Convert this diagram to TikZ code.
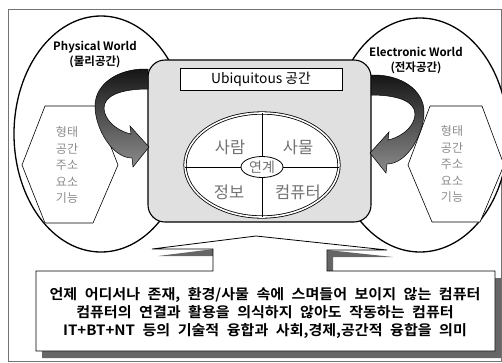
\documentclass[tikz,border=0pt]{standalone}
\usepackage{fontspec}
\setmainfont{Noto Sans CJK KR}[BoldFont={Noto Sans CJK KR Bold}]
\newfontfamily\callfont{Noto Sans CJK KR Bold}[WordSpace=2.2,FakeStretch=1.06]
\usetikzlibrary{shapes.geometric}
\begin{document}
\begin{tikzpicture}[x=1pt,y=-1pt,
  world/.style={draw=black,line width=1.3pt,fill=white},
  hexa/.style={draw=black,line width=0.6pt,fill=white},
  hextext/.style={align=center,text=black!45,font=\fontsize{12}{16.5}\selectfont,inner sep=0pt},
  worldlabel/.style={align=center,font=\fontsize{11.5}{15}\selectfont\bfseries,inner sep=0pt},
  curlarrow/.style={draw=black,line width=0.5pt,top color=black!92,bottom color=black!45},
  quad/.style={text=black!55,font=\fontsize{16.5}{16.5}\selectfont,inner sep=0pt},
  calltext/.style={align=center,font=\fontsize{14.2}{18}\callfont,inner sep=0pt}]
\useasboundingbox (0,0) rectangle (502,362);
\begin{scope}
\clip (0,0) rectangle (502,362);
% outer frame
\draw[black!55,line width=0.7pt] (8,9) rectangle (501,361);
% worlds
\draw[world] (101,134) ellipse [x radius=87,y radius=118];
\draw[world] (420,135) ellipse [x radius=88,y radius=117];
\draw[hexa] (45,106) -- (95,106) -- (118,165) -- (93,223) -- (45,223) -- (22,165) -- cycle;
\draw[hexa] (430,106) -- (482,106) -- (504,165) -- (480,222) -- (432,222) -- (408,165) -- cycle;
\node[hextext] (lhex) at (67,165) {형태\\공간\\주소\\요소\\기능};
\node[hextext] (rhex) at (452,164) {형태\\공간\\주소\\요소\\기능};
\node[worldlabel] (phys) at (95,54) {Physical World\\(물리공간)};
\node[worldlabel] (elec) at (416,60) {Electronic World\\(전자공간)};
% central box
\draw[black,line width=1.1pt,fill=black!12,rounded corners=17pt] (148,60) rectangle (371,222);
% curved arrows
\path[curlarrow] (148,69) .. controls (118,68) and (95,84) .. (95,106)
  .. controls (95,128) and (112,158) .. (132,158)
  -- (133,167) -- (149,147) -- (130,126) -- (131,134)
  .. controls (114,130) and (104,118) .. (104,108)
  .. controls (104,96) and (120,89) .. (148,89) -- cycle;
\path[curlarrow] (371,75) .. controls (401,74) and (424,90) .. (424,112)
  .. controls (424,134) and (407,164) .. (387,164)
  -- (386,173) -- (370,153) -- (389,132) -- (388,140)
  .. controls (405,136) and (415,124) .. (415,114)
  .. controls (415,102) and (399,95) .. (371,95) -- cycle;
% title
\node[draw=black,line width=0.7pt,fill=white,minimum width=162pt,minimum height=22pt,inner sep=0pt,
  font=\fontsize{13.8}{13.8}\selectfont] (ubi) at (261,79) {Ubiquitous 공간};
% inner ellipse
\draw[draw=black,line width=0.8pt,double=white,double distance=1.6pt,fill=white] (262,165) ellipse [x radius=77,y radius=52];
\draw[line width=0.8pt] (185,167) -- (339,167);
\draw[line width=0.8pt] (262,113) -- (262,217);
\node[draw=black,line width=0.8pt,fill=white,ellipse,minimum width=42pt,minimum height=21pt,inner sep=0pt,
  font=\fontsize{14}{14}\selectfont,text=black!55] (link) at (262,167) {연계};
\node[quad] (q1) at (230,147) {사람};
\node[quad] (q2) at (298,147) {사물};
\node[quad] (q3) at (229,192) {정보};
\node[quad] (q4) at (298,192) {컴퓨터};
% callout with shadow
\fill[black!60] ([shift={(6,7)}]36,271) -- ([shift={(6,7)}]213,271) -- ([shift={(6,7)}]213,249) -- ([shift={(6,7)}]152,249)
  -- ([shift={(6,7)}]256,236) -- ([shift={(6,7)}]387,250) -- ([shift={(6,7)}]327,250) -- ([shift={(6,7)}]327,271)
  -- ([shift={(6,7)}]495,271) -- ([shift={(6,7)}]495,351) -- ([shift={(6,7)}]36,351) -- cycle;
\draw[black,line width=0.8pt,fill=white] (36,271) -- (213,271) -- (213,249) -- (152,249)
  -- (256,236) -- (387,250) -- (327,250) -- (327,271)
  -- (495,271) -- (495,351) -- (36,351) -- cycle;
\node[calltext] (desc) at (265,313) {언제 어디서나 존재, 환경/사물 속에 스며들어 보이지 않는 컴퓨터\\
컴퓨터의 연결과 활용을 의식하지 않아도 작동하는 컴퓨터\\
IT+BT+NT 등의 기술적 융합과 사회,경제,공간적 융합을 의미};
\end{scope}
\end{tikzpicture}
\end{document}
